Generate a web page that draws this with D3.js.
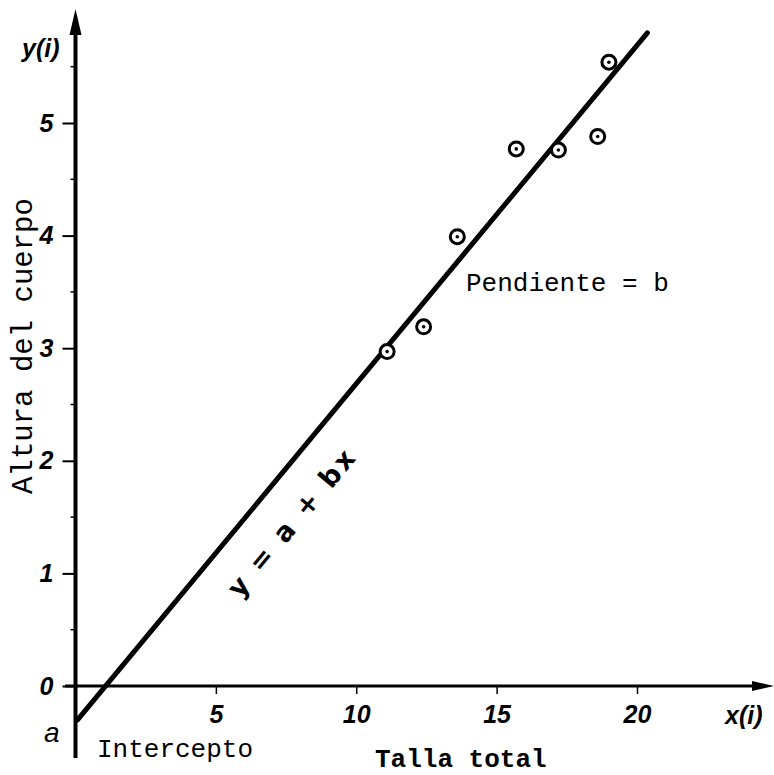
<!DOCTYPE html>
<html>
<head>
<meta charset="utf-8"/>
<script src="https://d3js.org/d3.v7.min.js"></script>
<style>
  body { margin: 0; background: #fff; }
  .tick-lab { font-family: "Liberation Sans", sans-serif; font-style: italic; font-weight: bold; font-size: 25px; }
  .mono { font-family: "Liberation Mono", "DejaVu Sans Mono", monospace; font-size: 26px; }
</style>
</head>
<body>
<div id="chart"></div>
<script>
// measurements: total length x(i) vs body height y(i)
var xVals = [11.1, 12.4, 13.6, 15.7, 17.2, 18.6, 19.0];
var yVals = [2.97, 3.19, 3.99, 4.77, 4.76, 4.88, 5.54];
var xTicks = [5, 10, 15, 20];
var yTicks = [0, 1, 2, 3, 4, 5];
var yMinor = [0.5, 1.5, 2.5, 3.5, 4.5, 5.5];
var intercept = -0.30;   // a
var slope = 0.2995;      // b
var lineEndX = 20.37;

var width = 774, height = 775;

var x = d3.scaleLinear().domain([0, 20]).range([75.5, 637]);
var y = d3.scaleLinear().domain([0, 5]).range([686, 123]);

var svg = d3.select("#chart").append("svg")
    .attr("width", width)
    .attr("height", height);

// x axis ticks
var xAxis = d3.axisBottom(x).tickValues(xTicks).tickSize(8).tickFormat(d3.format("d"));
var gx = svg.append("g")
    .attr("transform", "translate(0," + y(0) + ")")
    .call(xAxis);
gx.select(".domain").remove();
gx.selectAll("line").attr("stroke", "#000").attr("stroke-width", 1.5);
gx.selectAll("text")
    .attr("class", "tick-lab")
    .attr("fill", "#000")
    .attr("dy", null)
    .attr("y", 37);

// y axis ticks
var yAxis = d3.axisLeft(y).tickValues(yTicks).tickSize(13).tickPadding(10).tickFormat(d3.format("d"));
var gy = svg.append("g")
    .attr("transform", "translate(" + x(0) + ",0)")
    .call(yAxis);
gy.select(".domain").remove();
gy.selectAll("line").attr("stroke", "#000").attr("stroke-width", 2);
gy.selectAll("text")
    .attr("class", "tick-lab")
    .attr("fill", "#000")
    .attr("x", -22);

svg.append("g").selectAll("line")
    .data(yMinor)
    .enter().append("line")
    .attr("x1", x(0) - 5).attr("x2", x(0))
    .attr("y1", function(d){ return y(d); })
    .attr("y2", function(d){ return y(d); })
    .attr("stroke", "#000").attr("stroke-width", 1.5);

// axis lines with arrowheads
svg.append("line")
    .attr("x1", 65).attr("x2", 758)
    .attr("y1", y(0)).attr("y2", y(0))
    .attr("stroke", "#000").attr("stroke-width", 3);
svg.append("path")
    .attr("d", "M774," + y(0) + " L752," + (y(0) - 5) + " L752," + (y(0) + 5) + "Z")
    .attr("fill", "#000");

svg.append("line")
    .attr("x1", x(0)).attr("x2", x(0))
    .attr("y1", 758).attr("y2", 30)
    .attr("stroke", "#000").attr("stroke-width", 4);
svg.append("path")
    .attr("d", "M" + x(0) + ",9 L" + (x(0) - 6) + ",35 L" + (x(0) + 6) + ",35Z")
    .attr("fill", "#000");

// regression line y = a + bx
svg.append("line")
    .attr("x1", x(0) + 2).attr("y1", y(intercept))
    .attr("x2", x(lineEndX)).attr("y2", y(intercept + slope * lineEndX))
    .attr("stroke", "#000").attr("stroke-width", 5)
    .attr("stroke-linecap", "round");

// data points
var pts = svg.append("g").selectAll("g")
    .data(xVals.map(function(v, i){ return [v, yVals[i]]; }))
    .enter().append("g")
    .attr("transform", function(d){ return "translate(" + x(d[0]) + "," + y(d[1]) + ")"; });
pts.append("circle").attr("r", 7).attr("fill", "#fff").attr("stroke", "#000").attr("stroke-width", 3);
pts.append("circle").attr("r", 1.8).attr("fill", "#000");

// labels
svg.append("text").attr("class", "tick-lab")
    .attr("x", 22).attr("y", 57).text("y(i)");
svg.append("text").attr("class", "tick-lab")
    .attr("x", 725).attr("y", 724).text("x(i)");
svg.append("text").attr("class", "tick-lab")
    .style("font-weight", "normal").style("font-size", "28px")
    .attr("x", 44).attr("y", 742).text("a");

svg.append("text").attr("class", "mono")
    .attr("x", 97).attr("y", 757).text("Intercepto");
svg.append("text").attr("class", "mono")
    .attr("x", 375).attr("y", 767).attr("font-weight", "bold").text("Talla total");
svg.append("text").attr("class", "mono")
    .attr("x", 466).attr("y", 291).text("Pendiente = b");
svg.append("text").attr("class", "mono")
    .attr("transform", "translate(32,346) rotate(-90)")
    .attr("text-anchor", "middle")
    .style("font-size", "29px")
    .text("Altura del cuerpo");

// equation along the line
var ang = Math.atan2(y(intercept + slope * 10) - y(intercept), x(10) - x(0)) * 180 / Math.PI;
svg.append("text")
    .attr("transform", "translate(292,522) rotate(" + ang + ")")
    .attr("text-anchor", "middle")
    .attr("dy", "0.35em")
    .style("font-family", "'DejaVu Sans', sans-serif")
    .style("font-weight", "bold")
    .style("font-size", "27px")
    .style("letter-spacing", "3px")
    .attr("xml:space", "preserve")
    .text("y = a + bx");
</script>
</body>
</html>
